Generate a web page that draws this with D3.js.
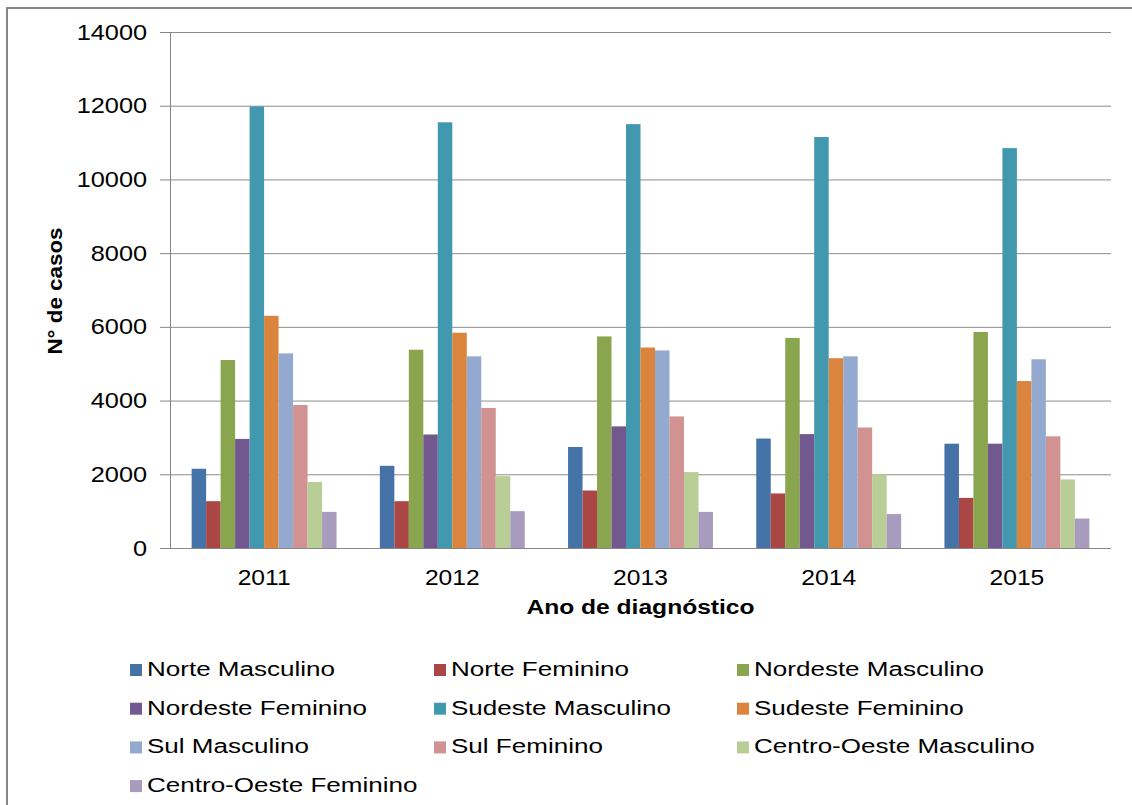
<!DOCTYPE html>
<html>
<head>
<meta charset="utf-8">
<script src="https://cdn.jsdelivr.net/npm/d3@7"></script>
<style>
  body { margin: 0; background: #fff; }
  text { font-family: "Liberation Sans", Arial, sans-serif; fill: #000; }
</style>
</head>
<body>
<svg id="chart" width="1132" height="805"></svg>
<script>
// data
const years = ["2011", "2012", "2013", "2014", "2015"];
const seriesNames = [
  "Norte Masculino", "Norte Feminino", "Nordeste Masculino", "Nordeste Feminino",
  "Sudeste Masculino", "Sudeste Feminino", "Sul Masculino", "Sul Feminino",
  "Centro-Oeste Masculino", "Centro-Oeste Feminino"
];
const norteM = [2150, 2230, 2740, 2970, 2830];
const norteF = [1270, 1270, 1560, 1480, 1360];
const nordesteM = [5100, 5380, 5740, 5700, 5860];
const nordesteF = [2960, 3080, 3300, 3090, 2830];
const sudesteM = [11980, 11550, 11500, 11150, 10850];
const sudesteF = [6300, 5840, 5440, 5150, 4530];
const sulM = [5280, 5200, 5360, 5200, 5120];
const sulF = [3880, 3800, 3570, 3270, 3030];
const centroM = [1790, 1950, 2060, 2000, 1860];
const centroF = [980, 1000, 980, 920, 800];
const yTicks = [0, 2000, 4000, 6000, 8000, 10000, 12000, 14000];

const seriesValues = [norteM, norteF, nordesteM, nordesteF, sudesteM, sudesteF, sulM, sulF, centroM, centroF];

const colors = ["#4572a7", "#aa4643", "#89a54e", "#71588f", "#4198af",
                "#db843d", "#93a9cf", "#d19392", "#b9cd96", "#a99bbd"];

const svg = d3.select("#chart");

// outer frame (only left and top edges visible)
svg.append("rect")
  .attr("x", 7).attr("y", 8)
  .attr("width", 1140).attr("height", 820)
  .attr("fill", "none")
  .attr("stroke", "#878787")
  .attr("stroke-width", 2);

const plotLeft = 170, plotRight = 1111, plotTop = 32, plotBottom = 548;

const x = d3.scaleBand().domain(years).range([plotLeft, plotRight]).paddingInner(0.23).paddingOuter(0.115);
const xs = d3.scaleBand().domain(seriesNames).range([0, x.bandwidth()]);
const y = d3.scaleLinear().domain([0, 14000]).range([plotBottom, plotTop]);

// gridlines
svg.append("g")
  .selectAll("line")
  .data(yTicks.filter(d => d > 0))
  .join("line")
  .attr("x1", plotLeft).attr("x2", plotRight)
  .attr("y1", d => y(d) + 0.5).attr("y2", d => y(d) + 0.5)
  .attr("stroke", "#8c8c8c")
  .attr("stroke-width", 1);

// y axis
const yAxis = svg.append("g")
  .attr("transform", `translate(${plotLeft},0)`)
  .call(d3.axisLeft(y).tickValues(yTicks).tickFormat(d3.format("d")).tickSize(10).tickPadding(13));
yAxis.select(".domain").attr("stroke", "#878787");
yAxis.selectAll(".tick line").attr("stroke", "#878787");
yAxis.selectAll(".tick text")
  .attr("x", -23 / 1.15)
  .attr("transform", "scale(1.15,1)")
  .style("font-size", "22px")
  .style("font-family", "Liberation Sans, Arial, sans-serif")
  .attr("fill", "#000");

// bars
const groups = svg.append("g")
  .selectAll("g")
  .data(years)
  .join("g")
  .attr("transform", d => `translate(${x(d)},0)`);

groups.selectAll("rect")
  .data((yr, i) => seriesNames.map((s, k) => ({ s, k, v: seriesValues[k][i] })))
  .join("rect")
  .attr("x", d => xs(d.s))
  .attr("width", xs.bandwidth())
  .attr("y", d => y(d.v))
  .attr("height", d => y(0) - y(d.v))
  .attr("fill", d => colors[d.k]);

// x axis line
svg.append("line")
  .attr("x1", plotLeft).attr("x2", plotRight)
  .attr("y1", plotBottom + 0.5).attr("y2", plotBottom + 0.5)
  .attr("stroke", "#878787");

// x labels
svg.append("g")
  .selectAll("text")
  .data(years)
  .join("text")
  .attr("transform", d => `translate(${x(d) + x.bandwidth() / 2},585) scale(1.12,1)`)
  .attr("text-anchor", "middle")
  .style("font-size", "22px")
  .text(d => d);

// axis titles
svg.append("text")
  .attr("transform", `translate(${(plotLeft + plotRight) / 2},614) scale(1.23,1)`)
  .attr("text-anchor", "middle")
  .style("font-size", "20px")
  .style("font-weight", "bold")
  .text("Ano de diagnóstico");

svg.append("text")
  .attr("transform", "translate(62,291) rotate(-90) scale(1.12,1)")
  .attr("text-anchor", "middle")
  .style("font-size", "20px")
  .style("font-weight", "bold")
  .text("N° de casos");

// legend
const legendCols = [130, 434, 737];
const legend = svg.append("g")
  .selectAll("g")
  .data(seriesNames)
  .join("g")
  .attr("transform", (d, i) => `translate(${legendCols[i % 3]},${676 + Math.floor(i / 3) * 38.7})`);

legend.append("rect")
  .attr("x", 0).attr("y", -12)
  .attr("width", 12).attr("height", 12)
  .attr("fill", (d, i) => colors[i]);

legend.append("text")
  .attr("transform", "translate(17,0) scale(1.24,1)")
  .style("font-size", "21px")
  .text(d => d);
</script>
</body>
</html>
